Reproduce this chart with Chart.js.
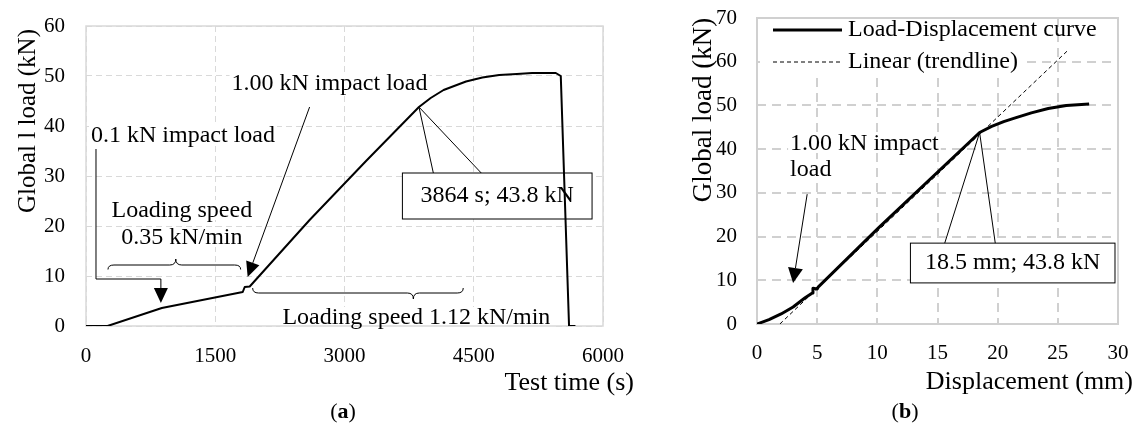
<!DOCTYPE html>
<html>
<head>
<meta charset="utf-8">
<script src="https://cdn.jsdelivr.net/npm/chart.js@4.4.1/dist/chart.umd.min.js"></script>
<style>
    html, body { margin: 0; padding: 0; background: #fff; }
    #fig { position: relative; width: 1143px; height: 434px; overflow: hidden; font-family: "Liberation Serif", "Times New Roman", serif; }
    #wrap-a { position: absolute; left: 0; top: 0; width: 660px; height: 434px; }
    #wrap-b { position: absolute; left: 660px; top: 0; width: 483px; height: 434px; }
    .cap { position: absolute; top: 400px; font-size: 22px; line-height: 22px; transform: translateX(-50%); color: #000; }
</style>
</head>
<body>
<div id="fig">
    <div id="wrap-a"><canvas id="chart-a"></canvas></div>
    <div id="wrap-b"><canvas id="chart-b"></canvas></div>
    <div class="cap" style="left:343px">(<b>a</b>)</div>
    <div class="cap" style="left:905px">(<b>b</b>)</div>
</div>
<script>
// panel (a): global load against test time
const testTime = [0, 250, 880, 1819, 1842, 1900, 2595, 3250, 3864, 4000, 4150, 4410, 4600, 4795, 5000, 5178, 5452, 5510, 5606, 5680];
const loadByTime = [0, 0, 3.6, 6.8, 7.8, 7.9, 21.2, 33.0, 43.8, 45.6, 47.2, 48.9, 49.7, 50.2, 50.4, 50.6, 50.6, 50.0, 0, 0];
const timeTicks = [0, 1500, 3000, 4500, 6000];
const loadTicksA = [0, 10, 20, 30, 40, 50, 60];

// panel (b): load-displacement curve and its linear trendline
const displacement = [0, 1, 2, 3, 4, 4.6, 4.65, 5.0, 5.1, 10.1, 18.5, 19.5, 20.5, 21.4, 22.8, 24.2, 25.7, 27.6];
const loadByDisp = [0, 1.0, 2.3, 3.9, 6.0, 7.1, 8.2, 8.0, 8.5, 22.0, 43.8, 45.2, 46.3, 47.1, 48.3, 49.3, 50.0, 50.3];
const trendDisp = [1.9, 25.8];
const trendLoad = [0, 62.5];
const dispTicks = [0, 5, 10, 15, 20, 25, 30];
const loadTicksB = [0, 10, 20, 30, 40, 50, 60, 70];
const legendLabels = ['Load-Displacement curve', 'Linear (trendline)'];

// annotations, anchored in data units
const notesA = [
    { text: '1.00 kN impact load', x: 2826, y: 48.5, align: 'center' },
    { text: '0.1 kN impact load', x: 58, y: 38.1, align: 'left' },
    { text: 'Loading speed', x: 1112, y: 23.0, align: 'center' },
    { text: '0.35 kN/min', x: 1112, y: 17.6, align: 'center' },
    { text: 'Loading speed 1.12 kN/min', x: 3834, y: 1.6, align: 'center' }
];
const peakA = { x: 3864, y: 43.8, text: '3864 s; 43.8 kN', x0: 3672, x1: 5873, y0: 21.4, y1: 30.6, legs: [4031, 4587] };
const notesB = [
    { text: '1.00 kN impact', x: 2.75, y: 41.3, align: 'left' },
    { text: 'load', x: 2.75, y: 35.2, align: 'left' }
];
const peakB = { x: 18.5, y: 43.8, text: '18.5 mm; 43.8 kN', x0: 12.75, x1: 29.75, y0: 9.4, y1: 18.5, legs: [15.6, 19.8] };

const SERIF = '"Liberation Serif", "Times New Roman", serif';

function toXY(xs, ys) { return xs.map((x, i) => ({ x: x, y: ys[i] })); }

function backing(ctx, text, x, y, align) {
    const w = ctx.measureText(text).width;
    const x0 = align === 'left' ? x : x - w / 2;
    ctx.fillStyle = '#fff';
    ctx.fillRect(x0 - 2, y - 11, w + 4, 20);
}
function note(ctx, text, x, y, align) {
    ctx.fillStyle = '#000'; ctx.textAlign = align; ctx.textBaseline = 'middle';
    ctx.fillText(text, x, y);
}
function arrow(ctx, x0, y0, x1, y1, len, half) {
    const a = Math.atan2(y1 - y0, x1 - x0);
    const bx = x1 - len * Math.cos(a), by = y1 - len * Math.sin(a);
    ctx.beginPath(); ctx.moveTo(x0, y0); ctx.lineTo(bx, by); ctx.stroke();
    ctx.beginPath(); ctx.moveTo(x1, y1);
    ctx.lineTo(bx + half * Math.sin(a), by - half * Math.cos(a));
    ctx.lineTo(bx - half * Math.sin(a), by + half * Math.cos(a));
    ctx.closePath(); ctx.fill();
}
function brace(ctx, x1, x2, xm, yFlat, yEnd, yTip) {
    const r = 6;
    ctx.beginPath();
    ctx.moveTo(x1, yEnd);
    ctx.quadraticCurveTo(x1, yFlat, x1 + r, yFlat);
    ctx.lineTo(xm - r, yFlat);
    ctx.quadraticCurveTo(xm, yFlat, xm, yTip);
    ctx.quadraticCurveTo(xm, yFlat, xm + r, yFlat);
    ctx.lineTo(x2 - r, yFlat);
    ctx.quadraticCurveTo(x2, yFlat, x2, yEnd);
    ctx.stroke();
}
function pixel(chart) {
    return (x, y) => [chart.scales.x.getPixelForValue(x), chart.scales.y.getPixelForValue(y)];
}
function calloutBox(ctx, P, pk, fill) {
    const [bx0, by0] = P(pk.x0, pk.y1), [bx1, by1] = P(pk.x1, pk.y0);
    if (fill) { ctx.fillStyle = '#fff'; ctx.fillRect(bx0, by0, bx1 - bx0, by1 - by0); return; }
    ctx.strokeStyle = '#000'; ctx.lineWidth = 1;
    ctx.strokeRect(bx0, by0, bx1 - bx0, by1 - by0);
    const [px, py] = P(pk.x, pk.y);
    ctx.beginPath();
    pk.legs.forEach(l => { ctx.moveTo(px, py); ctx.lineTo(P(l, pk.y1)[0], by0); });
    ctx.stroke();
    note(ctx, pk.text, (bx0 + bx1) / 2, (by0 + by1) / 2, 'center');
}
function axisTitles(ctx, yText, yFont, yBase, yMid, xText, xFont, xRight, xBase) {
    ctx.save();
    ctx.fillStyle = '#000';
    ctx.font = `${yFont}px ${SERIF}`;
    ctx.translate(yBase, yMid); ctx.rotate(-Math.PI / 2);
    ctx.textAlign = 'center'; ctx.textBaseline = 'alphabetic';
    ctx.fillText(yText, 0, 0);
    ctx.restore();
    ctx.save();
    ctx.fillStyle = '#000';
    ctx.font = `${xFont}px ${SERIF}`;
    ctx.textAlign = 'right'; ctx.textBaseline = 'alphabetic';
    ctx.fillText(xText, xRight, xBase);
    ctx.restore();
}

const panelA = {
    id: 'panelA',
    beforeDatasetsDraw(chart) {
        const { ctx, chartArea: ca } = chart;
        const P = pixel(chart);
        ctx.save();
        ctx.font = `24px ${SERIF}`;
        notesA.forEach(n => backing(ctx, n.text, ...P(n.x, n.y), n.align));
        calloutBox(ctx, P, peakA, true);
        ctx.strokeStyle = '#d9d9d9'; ctx.lineWidth = 1.5;
        ctx.strokeRect(ca.left, ca.top, ca.width, ca.height);
        ctx.restore();
    },
    afterDatasetsDraw(chart) {
        const { ctx, chartArea: ca } = chart;
        const P = pixel(chart);
        ctx.save();
        ctx.font = `24px ${SERIF}`;
        ctx.strokeStyle = '#000'; ctx.fillStyle = '#000'; ctx.lineWidth = 1;
        notesA.forEach(n => note(ctx, n.text, ...P(n.x, n.y), n.align));
        // 1.00 kN impact arrow
        arrow(ctx, ...P(2595, 43.8), ...P(1876, 9.8), 15, 7);
        // 0.1 kN impact elbow arrow
        const e0 = P(116, 35.4), e1 = P(116, 9.4), e2 = P(869, 9.4), tip = P(869, 4.6);
        ctx.beginPath(); ctx.moveTo(...e0); ctx.lineTo(...e1); ctx.lineTo(...e2); ctx.stroke();
        arrow(ctx, ...e2, ...tip, 15, 7);
        // loading speed braces
        const X = v => P(v, 0)[0], Y = v => P(0, v)[1];
        brace(ctx, X(255), X(1795), X(1042), Y(12.2), Y(11.3), Y(13.4));
        brace(ctx, X(1934), X(4378), X(3799), Y(6.6), Y(7.6), Y(5.4));
        calloutBox(ctx, P, peakA, false);
        ctx.restore();
        axisTitles(ctx, 'Global l load (kN)', 25, 35, 121, 'Test time (s)', 26, ca.right + 31, 390);
    }
};

const panelB = {
    id: 'panelB',
    beforeDatasetsDraw(chart) {
        const { ctx, chartArea: ca } = chart;
        const P = pixel(chart);
        ctx.save();
        ctx.font = `24px ${SERIF}`;
        notesB.forEach(n => backing(ctx, n.text, ...P(n.x, n.y), n.align));
        calloutBox(ctx, P, peakB, true);
        ctx.fillStyle = '#fff';
        ctx.fillRect(ca.left + 3, ca.top + 1, 262, 56);
        ctx.strokeStyle = '#d0d0d0'; ctx.lineWidth = 2;
        ctx.strokeRect(ca.left, ca.top, ca.width, ca.height);
        ctx.restore();
    },
    afterDatasetsDraw(chart) {
        const { ctx, chartArea: ca } = chart;
        const P = pixel(chart);
        ctx.save();
        ctx.font = `24px ${SERIF}`;
        ctx.strokeStyle = '#000'; ctx.fillStyle = '#000'; ctx.lineWidth = 1;
        notesB.forEach(n => note(ctx, n.text, ...P(n.x, n.y), n.align));
        arrow(ctx, ...P(4.17, 29.7), ...P(3.0, 9.4), 15, 7.5);
        calloutBox(ctx, P, peakB, false);
        // legend
        chart.data.datasets.forEach((ds, i) => {
            const y = ca.top + 12 + i * 32;
            ctx.strokeStyle = '#000'; ctx.lineWidth = ds.borderWidth;
            ctx.setLineDash(ds.borderDash || []);
            ctx.beginPath(); ctx.moveTo(ca.left + 16, y); ctx.lineTo(ca.left + 85, y); ctx.stroke();
            ctx.setLineDash([]);
            ctx.textAlign = 'left'; ctx.textBaseline = 'middle'; ctx.fillStyle = '#000';
            ctx.fillText(ds.label, ca.left + 91, y);
        });
        ctx.restore();
        axisTitles(ctx, 'Global load (kN)', 27, 51, 110, 'Displacement (mm)', 26, ca.right + 15, 389);
    }
};

function makeOptions(cfg) {
    const tickFont = { family: SERIF, size: 21 };
    const noPad = s => { s.paddingTop = 0; s.paddingBottom = 0; s.paddingLeft = 0; s.paddingRight = 0; };
    return {
        responsive: true, maintainAspectRatio: false, animation: false, events: [],
        layout: { padding: cfg.padding },
        plugins: { legend: { display: false }, tooltip: { enabled: false } },
        elements: { point: { radius: 0 } },
        scales: {
            x: {
                type: 'linear', min: cfg.xTicks[0], max: cfg.xTicks[cfg.xTicks.length - 1],
                afterBuildTicks: s => { s.ticks = cfg.xTicks.map(v => ({ value: v })); },
                afterFit: s => { s.height = cfg.xHeight; noPad(s); },
                ticks: { font: tickFont, color: '#000', padding: cfg.xPad, maxRotation: 0, autoSkip: false, callback: v => String(v) },
                grid: { color: cfg.grid, lineWidth: cfg.gridWidth, drawTicks: false },
                border: { display: false, dash: cfg.dash }
            },
            y: {
                type: 'linear', min: cfg.yTicks[0], max: cfg.yTicks[cfg.yTicks.length - 1],
                afterBuildTicks: s => { s.ticks = cfg.yTicks.map(v => ({ value: v })); },
                afterFit: s => { s.width = cfg.yWidth; noPad(s); },
                ticks: { font: tickFont, color: '#000', padding: cfg.yPad, callback: v => String(v) },
                grid: { color: cfg.grid, lineWidth: cfg.gridWidth, drawTicks: false },
                border: { display: false, dash: cfg.dash }
            }
        }
    };
}

new Chart(document.getElementById('chart-a'), {
    type: 'scatter',
    data: {
        datasets: [{
            label: 'Global load', data: toXY(testTime, loadByTime), showLine: true,
            borderColor: '#000', borderWidth: 2, tension: 0, borderJoinStyle: 'round'
        }]
    },
    options: makeOptions({
        padding: { left: 0, top: 26, right: 57, bottom: 0 }, xHeight: 108, yWidth: 86,
        xTicks: timeTicks, yTicks: loadTicksA, xPad: 18, yPad: 21,
        grid: '#d9d9d9', gridWidth: 1, dash: [6, 4]
    }),
    plugins: [panelA]
});

new Chart(document.getElementById('chart-b'), {
    type: 'scatter',
    data: {
        datasets: [{
            label: legendLabels[0], data: toXY(displacement, loadByDisp), showLine: true,
            borderColor: '#000', borderWidth: 3, tension: 0, borderJoinStyle: 'round'
        }, {
            label: legendLabels[1], data: toXY(trendDisp, trendLoad), showLine: true,
            borderColor: '#000', borderWidth: 1, borderDash: [4, 3], tension: 0
        }]
    },
    options: makeOptions({
        padding: { left: 0, top: 18, right: 25, bottom: 0 }, xHeight: 110, yWidth: 97,
        xTicks: dispTicks, yTicks: loadTicksB, xPad: 17, yPad: 20,
        grid: '#d0d0d0', gridWidth: 2, dash: [9, 6]
    }),
    plugins: [panelB]
});
</script>
</body>
</html>
